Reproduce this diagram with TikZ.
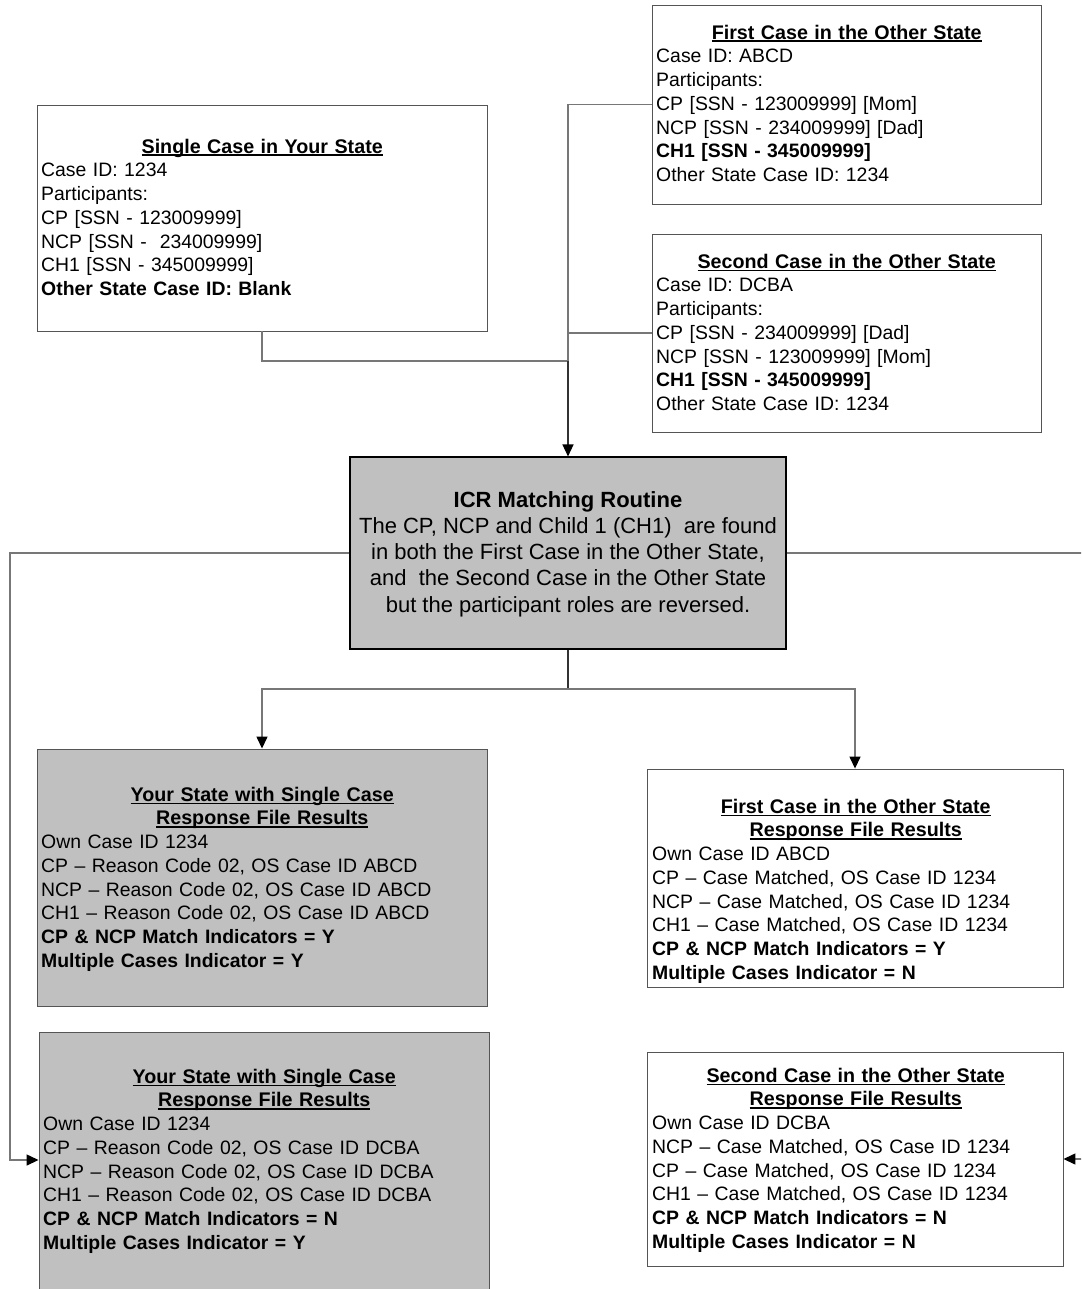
\documentclass[tikz,border=0pt]{standalone}
\usepackage{fontspec}
\setmainfont{Liberation Sans}
\usetikzlibrary{arrows.meta}
\definecolor{boxgray}{HTML}{C0C0C0}
\definecolor{linegray}{HTML}{777777}
\definecolor{edgegray}{HTML}{555555}
\newcommand\myul[1]{\setbox0\hbox{#1}\rlap{\rule[-2.6pt]{\wd0}{1.3pt}}\box0}
\newcommand\ttl[1]{\makebox[\linewidth][c]{\fontsize{19.7}{23.75}\selectfont\myul{\textbf{#1}}}}
\newcommand\fst{\rule{0pt}{20pt}}
\begin{document}
\begin{tikzpicture}[x=1pt,y=-1pt,
  whitebox/.style={draw=edgegray,line width=0.9pt,fill=white,inner sep=0pt},
  graybox/.style={draw=edgegray,line width=0.9pt,fill=boxgray,inner sep=0pt},
  icrbox/.style={draw=black,line width=1.1pt,fill=boxgray,inner sep=0pt},
  boxtext/.style={anchor=north west,inner sep=0pt,align=left,
    font=\fontsize{19.4}{23.75}\selectfont},
  conn/.style={draw=linegray,line width=1.4pt},
  dconn/.style={draw=black!80,line width=1.4pt},
  tip/.style={-{Triangle[length=12pt,width=11pt,fill=black,color=black]}}
]
\useasboundingbox (0,0) rectangle (1081,1289);
\clip (0,0) rectangle (1081,1289);
\fill[white] (0,0) rectangle (1081,1289);

% boxes
\node[whitebox,minimum width=450pt,minimum height=226pt] (A) at (262,218) {};
\node[whitebox,minimum width=389pt,minimum height=199pt] (B) at (846.5,104.5) {};
\node[whitebox,minimum width=389pt,minimum height=198pt] (C) at (846.5,333) {};
\node[icrbox,minimum width=436pt,minimum height=192pt] (ICR) at (568,553) {};
\node[graybox,minimum width=450pt,minimum height=257pt] (D) at (262,877.5) {};
\node[whitebox,minimum width=416pt,minimum height=218pt] (E) at (855,878) {};
\node[graybox,minimum width=450pt,minimum height=280pt] (F) at (264,1172) {};
\node[whitebox,minimum width=416pt,minimum height=214pt] (G) at (855,1159) {};

% texts
\node[boxtext,text width=442pt] (tA) at (41,133) {\fst\ttl{Single Case in Your State}\\
Case ID: 1234\\
Participants:\\
CP [SSN - 123009999]\\
NCP [SSN -\ \ 234009999]\\
CH1 [SSN - 345009999]\\
\textbf{Other State Case ID: Blank}};

\node[boxtext,text width=381pt] (tB) at (656,19) {\fst\ttl{First Case in the Other State}\\
Case ID: ABCD\\
Participants:\\
CP [SSN - 123009999] [Mom]\\
NCP [SSN - 234009999] [Dad]\\
\textbf{CH1 [SSN - 345009999]}\\
Other State Case ID: 1234};

\node[boxtext,text width=381pt] (tC) at (656,248) {\fst\ttl{Second Case in the Other State}\\
Case ID: DCBA\\
Participants:\\
CP [SSN - 234009999] [Dad]\\
NCP [SSN - 123009999] [Mom]\\
\textbf{CH1 [SSN - 345009999]}\\
Other State Case ID: 1234};

\node[anchor=north,inner sep=0pt,align=center,
  font=\fontsize{22}{26.2}\selectfont] (tICR) at (568,485) {\rule{0pt}{22pt}\textbf{ICR Matching Routine}\\
The CP, NCP and Child 1 (CH1)\ \ are found\\
in both the First Case in the Other State,\\
and\ \ the Second Case in the Other State\\
but the participant roles are reversed.};

\node[boxtext,text width=442pt] (tD) at (41,781) {\fst\ttl{Your State with Single Case}\\
\ttl{Response File Results}\\
Own Case ID 1234\\
CP – Reason Code 02, OS Case ID ABCD\\
NCP – Reason Code 02, OS Case ID ABCD\\
CH1 – Reason Code 02, OS Case ID ABCD\\
\textbf{CP \& NCP Match Indicators = Y}\\
\textbf{Multiple Cases Indicator = Y}};

\node[boxtext,text width=407pt] (tE) at (652,793) {\fst\ttl{First Case in the Other State}\\
\ttl{Response File Results}\\
Own Case ID ABCD\\
CP – Case Matched, OS Case ID 1234\\
NCP – Case Matched, OS Case ID 1234\\
CH1 – Case Matched, OS Case ID 1234\\
\textbf{CP \& NCP Match Indicators = Y}\\
\textbf{Multiple Cases Indicator = N}};

\node[boxtext,text width=442pt] (tF) at (43,1063) {\fst\ttl{Your State with Single Case}\\
\ttl{Response File Results}\\
Own Case ID 1234\\
CP – Reason Code 02, OS Case ID DCBA\\
NCP – Reason Code 02, OS Case ID DCBA\\
CH1 – Reason Code 02, OS Case ID DCBA\\
\textbf{CP \& NCP Match Indicators = N}\\
\textbf{Multiple Cases Indicator = Y}};

\node[boxtext,text width=407pt] (tG) at (652,1062) {\fst\ttl{Second Case in the Other State}\\
\ttl{Response File Results}\\
Own Case ID DCBA\\
NCP – Case Matched, OS Case ID 1234\\
CP – Case Matched, OS Case ID 1234\\
CH1 – Case Matched, OS Case ID 1234\\
\textbf{CP \& NCP Match Indicators = N}\\
\textbf{Multiple Cases Indicator = N}};

% connector coordinates
\coordinate (j1) at (568,361);
\coordinate (j2) at (568,689);
\coordinate (lc) at (10,1160);
\coordinate (rc) at (1095,1159);
\coordinate (fy) at (0,1160);

% connectors
\draw[conn] (A.south) |- (j1);
\draw[conn] (B.west) -| (j1);
\draw[conn] (C.west) -- (C.west -| ICR.north);
\draw[dconn,tip] (j1) -- (ICR.north);
\draw[dconn] (ICR.south) -- (j2);
\draw[conn,tip] (j2) -| (D.north);
\draw[conn,tip] (j2) -| (E.north);
\draw[conn,tip] (ICR.west) -| (lc) -- (F.west |- fy);
\draw[conn,tip] (ICR.east) -| (rc) -- (G.east);
\end{tikzpicture}
\end{document}
